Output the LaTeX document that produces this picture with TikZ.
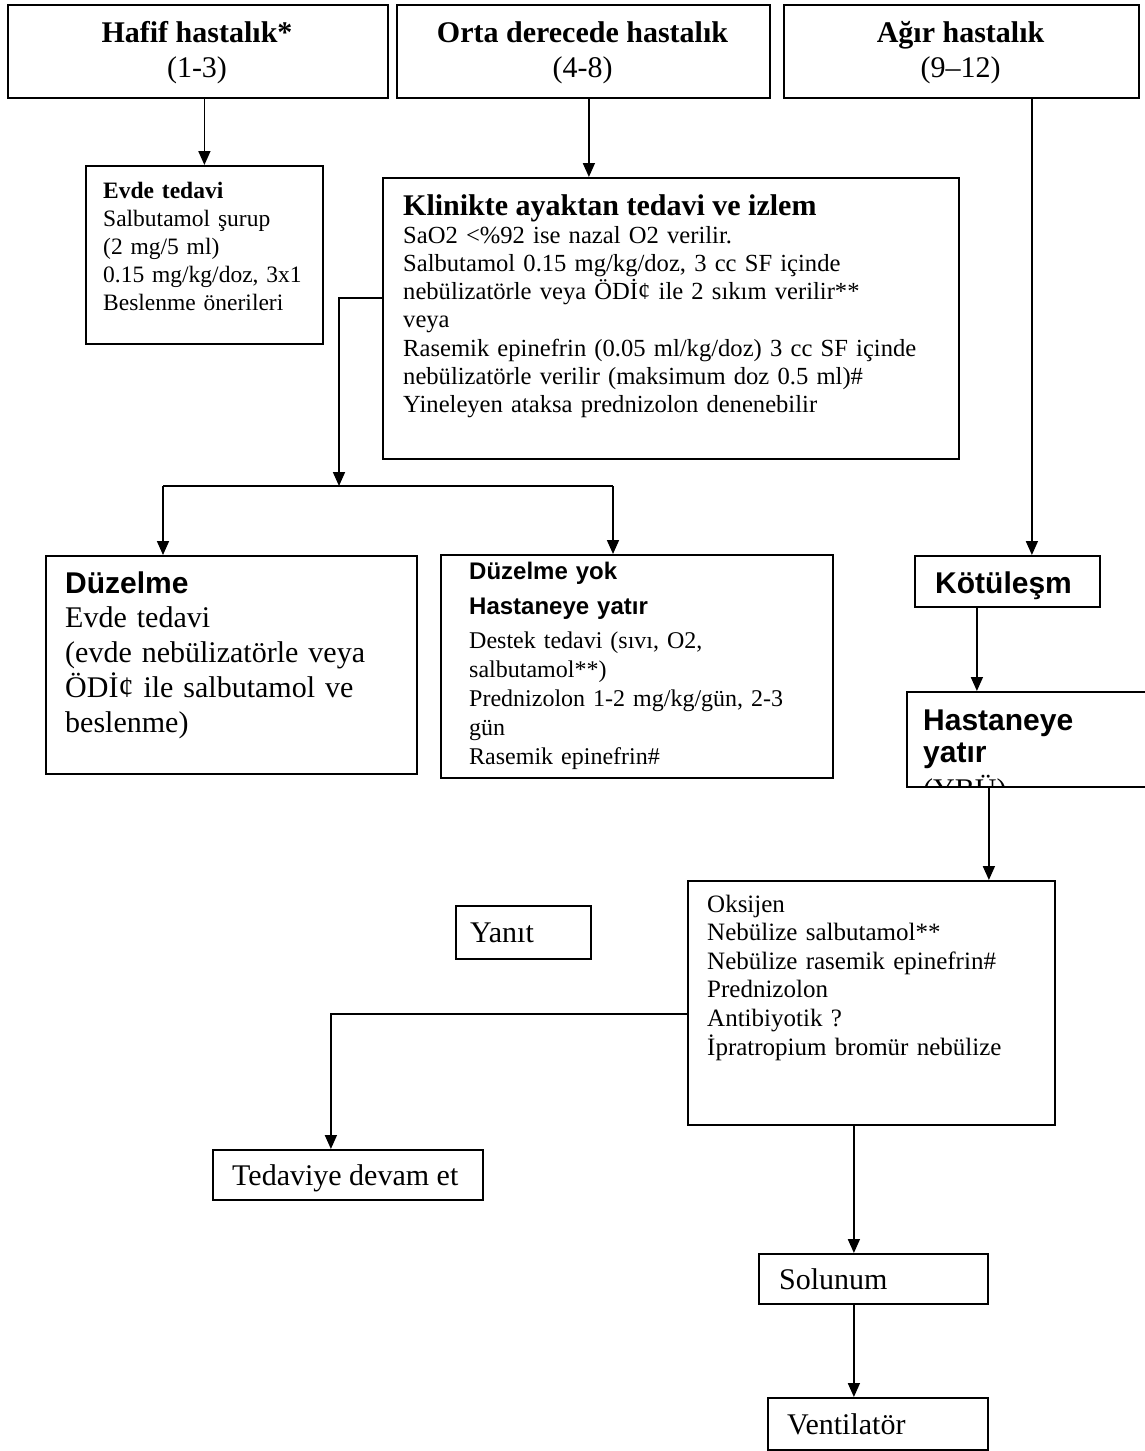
\documentclass[tikz,border=0pt]{standalone}
\usepackage{fontspec}
\setmainfont{Liberation Serif}
\setsansfont{Liberation Sans}
\usetikzlibrary{arrows.meta}
\begin{document}
\begin{tikzpicture}[x=1pt,y=-1pt,
  box/.style={draw,line width=1.8pt,inner sep=0pt,anchor=north west},
  conn/.style={line width=1.7pt},
  arr/.style={conn,-{Triangle[length=14pt,width=12pt]}},
  txt/.style={inner sep=0pt,anchor=base west,align=left},
  ttl/.style={inner sep=0pt,anchor=base},
  fA/.style={font=\fontsize{30}{35}\selectfont},
  fAb/.style={font=\bfseries\fontsize{30}{35}\selectfont},
  sAb/.style={font=\sffamily\bfseries\fontsize{30}{32}\selectfont},
]
\useasboundingbox (0,0) rectangle (1144,1451);

% boxes
\node[box,minimum width=380pt,minimum height=93pt] (hafif) at (7,4) {};
\node[box,minimum width=373pt,minimum height=93pt] (orta) at (396,4) {};
\node[box,minimum width=355pt,minimum height=93pt] (agir) at (783,4) {};
\node[box,minimum width=237pt,minimum height=178pt] (evde) at (85,165) {};
\node[box,minimum width=576pt,minimum height=281pt] (klin) at (382,177) {};
\node[box,minimum width=371pt,minimum height=218pt] (dz) at (45,555) {};
\node[box,minimum width=392pt,minimum height=223pt] (dzy) at (440,554) {};
\node[box,minimum width=185pt,minimum height=51pt] (kotu) at (914,555) {};
\node[box,minimum width=260pt,minimum height=95pt] (hast) at (906,691) {};
\node[box,minimum width=367pt,minimum height=244pt] (oks) at (687,880) {};
\node[box,minimum width=135pt,minimum height=53pt] (yanit) at (455,905) {};
\node[box,minimum width=270pt,minimum height=50pt] (ted) at (212,1149) {};
\node[box,minimum width=229pt,minimum height=50pt] (sol) at (758,1253) {};
\node[box,minimum width=220pt,minimum height=52pt] (vent) at (767,1397) {};

% top texts
\node[ttl,fAb] (hafif-t) at (197,42) {Hafif hastalık*};
\node[ttl,fA] (hafif-n) at (197,77) {(1-3)};
\node[ttl,fAb] (orta-t) at (582.5,42) {Orta derecede hastalık};
\node[ttl,fA] (orta-n) at (582.5,77) {(4-8)};
\node[ttl,fAb] (agir-t) at (960.5,42) {Ağır hastalık};
\node[ttl,fA] (agir-n) at (960.5,77) {(9–12)};

% Evde tedavi
\node[txt,text width=215pt,font=\fontsize{23.5}{28}\selectfont] (evde-t) at (103,198)
  {\textbf{Evde tedavi}\\Salbutamol şurup\\(2 mg/5 ml)\\0.15 mg/kg/doz, 3x1\\Beslenme önerileri};

% Klinikte
\node[txt,fAb] (klin-t) at (403,215) {Klinikte ayaktan tedavi ve izlem};
\node[txt,text width=550pt,font=\fontsize{24.6}{28.3}\selectfont] (klin-b) at (403,243)
  {SaO2 <\%92 ise nazal O2 verilir.\\
   Salbutamol 0.15 mg/kg/doz, 3 cc SF içinde\\
   nebülizatörle veya ÖDİ¢ ile 2 sıkım verilir**\\
   veya\\
   Rasemik epinefrin (0.05 ml/kg/doz) 3 cc SF içinde\\
   nebülizatörle verilir (maksimum doz 0.5 ml)\#\\
   Yineleyen ataksa prednizolon denenebilir};

% Duzelme
\node[txt,sAb] (dz-t) at (65,593) {Düzelme};
\node[txt,text width=345pt,font=\fontsize{30}{35}\selectfont] (dz-b) at (65,627)
  {Evde tedavi\\(evde nebülizatörle veya\\ÖDİ¢ ile salbutamol ve\\beslenme)};

% Duzelme yok
\node[txt,text width=360pt,font=\sffamily\bfseries\fontsize{24}{35}\selectfont] (dzy-t) at (469,579)
  {Düzelme yok\\Hastaneye yatır};
\node[txt,text width=360pt,font=\fontsize{24}{29}\selectfont] (dzy-b) at (469,648)
  {Destek tedavi (sıvı, O2,\\salbutamol**)\\Prednizolon 1-2 mg/kg/gün, 2-3\\gün\\Rasemik epinefrin\#};

% Kotulesm / Hastaneye
\node[txt,sAb] (kotu-t) at (935,593) {Kötüleşm};
\node[txt,text width=215pt,sAb] (hast-t) at (923,730) {Hastaneye\\yatır};
\begin{scope}
  \clip (906,691) rectangle (1144,786);
  \node[txt,fA] (hast-y) at (923,799) {(YBÜ)};
\end{scope}

% Oksijen
\node[txt,text width=340pt,font=\fontsize{25}{28.6}\selectfont] (oks-t) at (707,912)
  {Oksijen\\Nebülize salbutamol**\\Nebülize rasemik epinefrin\#\\Prednizolon\\Antibiyotik ?\\İpratropium bromür nebülize};

\node[txt,fA] (yanit-t) at (470,942) {Yanıt};
\node[txt,fA] (ted-t) at (232,1185) {Tedaviye devam et};
\node[txt,fA] (sol-t) at (779,1289) {Solunum};
\node[txt,fA] (vent-t) at (787,1434) {Ventilatör};

% connectors
\draw[arr] (evde.north |- hafif.south) -- (evde.north);
\coordinate (ortab) at ([xshift=5.5pt]orta.south);
\draw[arr] (ortab) -- (ortab |- klin.north);
\coordinate (agirb) at ([xshift=70.5pt]agir.south);
\draw[arr] (agirb) -- (agirb |- kotu.north);

\coordinate (split) at (339,486);
\draw[arr] ([yshift=20.5pt]klin.west) -| (split);
\coordinate (sl) at (163,486);
\coordinate (sr) at (613,486);
\draw[conn] (sl) -- (sr);
\draw[arr] (sl) -- (sl |- dz.north);
\draw[arr] (sr) -- (sr |- dzy.north);

\coordinate (kotub) at ([xshift=-30.5pt]kotu.south);
\draw[arr] (kotub) -- (kotub |- hast.north);
\coordinate (hastb) at ([xshift=-48pt]hast.south);
\draw[arr] (hastb) -- (hastb |- oks.north);

\coordinate (tedt) at ([xshift=-17pt]ted.north);
\draw[arr] ([yshift=-11pt]oks.west) -| (tedt);
\coordinate (oksb) at ([xshift=-17.5pt]oks.south);
\draw[arr] (oksb) -- (oksb |- sol.north);
\draw[arr] (oksb |- sol.south) -- (oksb |- vent.north);
\end{tikzpicture}
\end{document}
